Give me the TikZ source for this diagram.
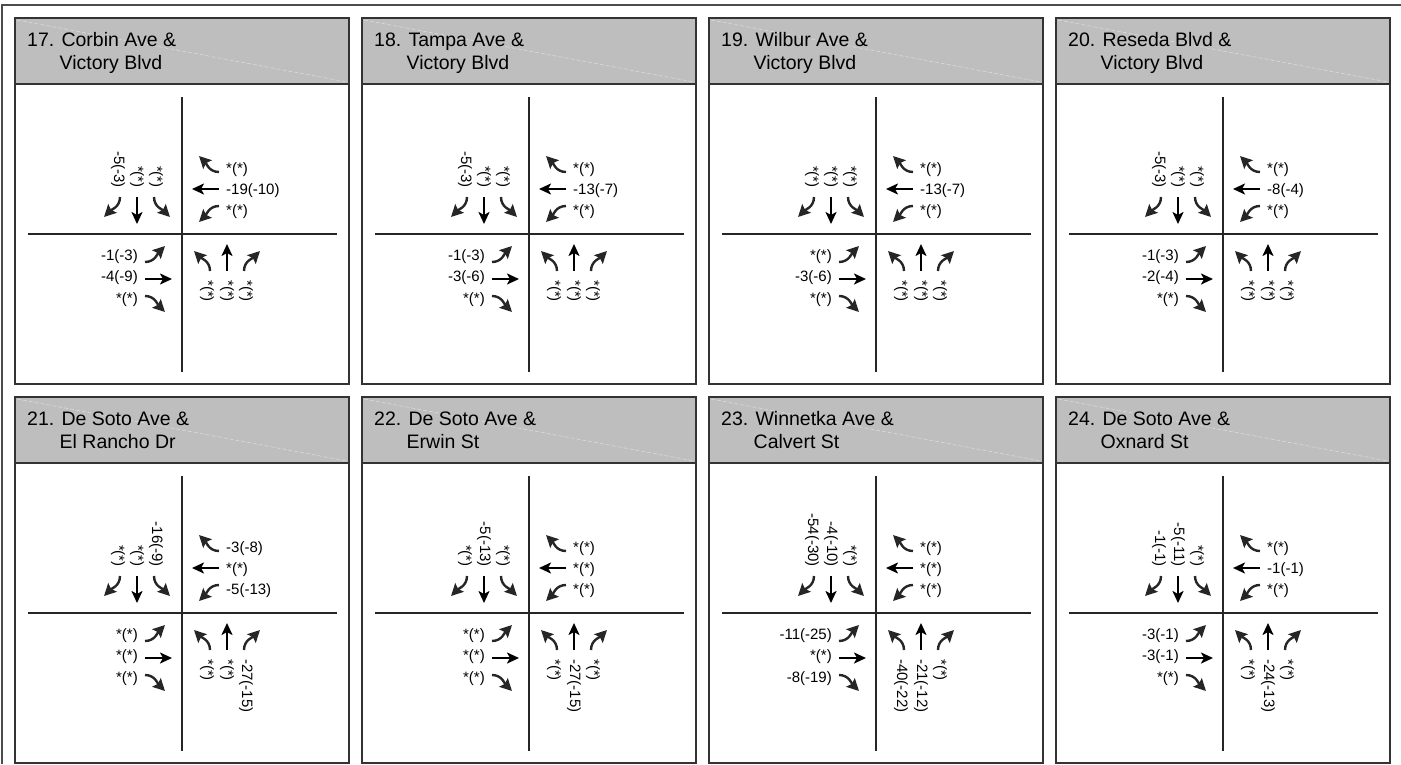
\documentclass[tikz,border=0pt]{standalone}
\usepackage{fontspec}
\setmainfont{Liberation Sans}
\usetikzlibrary{arrows.meta}

\definecolor{hdrgray}{RGB}{190,190,190}
\definecolor{lnclr}{RGB}{51,51,51}

\tikzset{
 frm/.style={draw=lnclr, line width=1.4pt},
 road/.style={draw=black!85, line width=1.2pt},
 mvt/.style={black, line width=2.4pt, -{Stealth[length=12pt,width=11pt,inset=3pt]}},
 turn/.style={black!85, line width=2.4pt, -{Stealth[length=12pt,width=12pt,inset=2pt]}},
 vol/.style={inner sep=0pt, font=\fontsize{15}{18}\selectfont},
 ttl/.style={inner sep=0pt, anchor=base west, font=\fontsize{19.5}{23}\selectfont},
}

% one approach (drawn northbound), turned for the other three
\newcommand\approach{%
 \draw[turn] (28,-37) to[out=90,in=-45] (12,-17);
 \draw[mvt] (45,-37) -- (45,-10);
 \draw[turn] (62,-37) to[out=90,in=-135] (78,-17);
}

% frame, title, roads and arrows of one intersection
\newcommand\panel[3]{%
 \def\pid{#1}%
 \fill[hdrgray] (0,0) rectangle (334,-66);
 \draw[white, opacity=.5, line width=.5pt, dash pattern=on 4pt off 2pt] (2,-2) -- (332,-64);
 \draw[frm] (0,0) rectangle (334,-366);
 \draw[frm] (0,-66) -- (334,-66);
 \node[ttl] (p#1t1) at (12,-28.7) {#1. #2};
 \node[ttl] (p#1t2) at (12,-51) {\phantom{#1.\ }#3};
 \begin{scope}[shift={(167,-216)}]
  \draw[road] (0,137) -- (0,-138);
  \draw[road] (-154,0) -- (155,0);
  \approach
  \begin{scope}[rotate=90]\approach\end{scope}
  \begin{scope}[rotate=180]\approach\end{scope}
  \begin{scope}[rotate=270]\approach\end{scope}
 \end{scope}
}

% volume labels per approach
\newcommand\sbl[3]{%
 \node[vol, rotate=-90, anchor=east] (p\pid sb1) at (103,-170) {#1};
 \node[vol, rotate=-90, anchor=east] (p\pid sb2) at (122,-170) {#2};
 \node[vol, rotate=-90, anchor=east] (p\pid sb3) at (141,-170) {#3};
}
\newcommand\nbl[3]{%
 \node[vol, rotate=-90, anchor=west] (p\pid nb1) at (192,-262) {#1};
 \node[vol, rotate=-90, anchor=west] (p\pid nb2) at (212,-262) {#2};
 \node[vol, rotate=-90, anchor=west] (p\pid nb3) at (231,-262) {#3};
}
\newcommand\wbl[3]{%
 \node[vol, anchor=west] (p\pid wb1) at (211,-152) {#1};
 \node[vol, anchor=west] (p\pid wb2) at (211,-173) {#2};
 \node[vol, anchor=west] (p\pid wb3) at (211,-194) {#3};
}
\newcommand\ebl[3]{%
 \node[vol, anchor=east] (p\pid eb1) at (123,-239) {#1};
 \node[vol, anchor=east] (p\pid eb2) at (123,-260) {#2};
 \node[vol, anchor=east] (p\pid eb3) at (123,-282) {#3};
}

\begin{document}
\begin{tikzpicture}[x=1pt, y=1pt]
 \useasboundingbox (0,0) rectangle (1401,-764);
 \draw[draw=black!70, line width=2pt] (2,-764) -- (2,-4.5) -- (1401,-4.5);

 \begin{scope}[shift={(15,-18)}]
  \panel{17}{Corbin Ave \&}{Victory Blvd}
  \sbl{-5(-3)}{*(*)}{*(*)}
  \wbl{*(*)}{-19(-10)}{*(*)}
  \ebl{-1(-3)}{-4(-9)}{*(*)}
  \nbl{*(*)}{*(*)}{*(*)}
 \end{scope}
 \begin{scope}[shift={(362,-18)}]
  \panel{18}{Tampa Ave \&}{Victory Blvd}
  \sbl{-5(-3)}{*(*)}{*(*)}
  \wbl{*(*)}{-13(-7)}{*(*)}
  \ebl{-1(-3)}{-3(-6)}{*(*)}
  \nbl{*(*)}{*(*)}{*(*)}
 \end{scope}
 \begin{scope}[shift={(709,-18)}]
  \panel{19}{Wilbur Ave \&}{Victory Blvd}
  \sbl{*(*)}{*(*)}{*(*)}
  \wbl{*(*)}{-13(-7)}{*(*)}
  \ebl{*(*)}{-3(-6)}{*(*)}
  \nbl{*(*)}{*(*)}{*(*)}
 \end{scope}
 \begin{scope}[shift={(1056,-18)}]
  \panel{20}{Reseda Blvd \&}{Victory Blvd}
  \sbl{-5(-3)}{*(*)}{*(*)}
  \wbl{*(*)}{-8(-4)}{*(*)}
  \ebl{-1(-3)}{-2(-4)}{*(*)}
  \nbl{*(*)}{*(*)}{*(*)}
 \end{scope}

 \begin{scope}[shift={(15,-397)}]
  \panel{21}{De Soto Ave \&}{El Rancho Dr}
  \sbl{*(*)}{*(*)}{-16(-9)}
  \wbl{-3(-8)}{*(*)}{-5(-13)}
  \ebl{*(*)}{*(*)}{*(*)}
  \nbl{*(*)}{*(*)}{-27(-15)}
 \end{scope}
 \begin{scope}[shift={(362,-397)}]
  \panel{22}{De Soto Ave \&}{Erwin St}
  \sbl{*(*)}{-5(-13)}{*(*)}
  \wbl{*(*)}{*(*)}{*(*)}
  \ebl{*(*)}{*(*)}{*(*)}
  \nbl{*(*)}{-27(-15)}{*(*)}
 \end{scope}
 \begin{scope}[shift={(709,-397)}]
  \panel{23}{Winnetka Ave \&}{Calvert St}
  \sbl{-54(-30)}{-4(-10)}{*(*)}
  \wbl{*(*)}{*(*)}{*(*)}
  \ebl{-11(-25)}{*(*)}{-8(-19)}
  \nbl{-40(-22)}{-21(-12)}{*(*)}
 \end{scope}
 \begin{scope}[shift={(1056,-397)}]
  \panel{24}{De Soto Ave \&}{Oxnard St}
  \sbl{-1(-1)}{-5(-11)}{*(*)}
  \wbl{*(*)}{-1(-1)}{*(*)}
  \ebl{-3(-1)}{-3(-1)}{*(*)}
  \nbl{*(*)}{-24(-13)}{*(*)}
 \end{scope}
\end{tikzpicture}
\end{document}
